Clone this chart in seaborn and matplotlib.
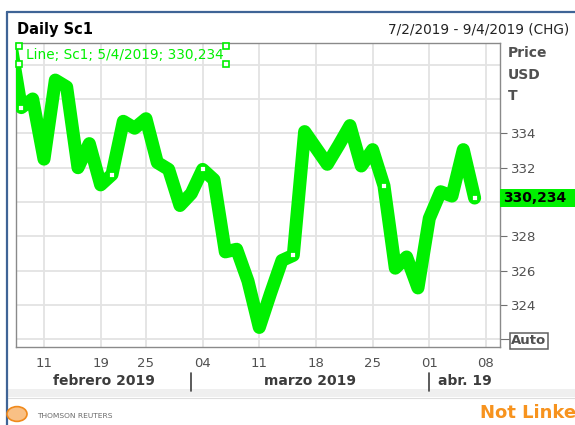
import pandas as pd
import seaborn as sns
import matplotlib.pyplot as plt
import matplotlib.transforms as mtransforms
from matplotlib.patches import Rectangle, Circle
from matplotlib.lines import Line2D

# trading days shown on the axis (Feb 6 is just off the left edge)
trade_days = [
    "2019-02-06", "2019-02-07", "2019-02-08", "2019-02-11", "2019-02-12",
    "2019-02-13", "2019-02-14", "2019-02-15", "2019-02-19", "2019-02-20",
    "2019-02-21", "2019-02-22", "2019-02-25", "2019-02-26", "2019-02-27",
    "2019-02-28", "2019-03-01", "2019-03-04", "2019-03-05", "2019-03-06",
    "2019-03-07", "2019-03-08", "2019-03-11", "2019-03-12", "2019-03-13",
    "2019-03-14", "2019-03-15", "2019-03-18", "2019-03-19", "2019-03-20",
    "2019-03-21", "2019-03-22", "2019-03-25", "2019-03-26", "2019-03-27",
    "2019-03-28", "2019-03-29", "2019-04-01", "2019-04-02", "2019-04-03",
    "2019-04-04", "2019-04-05", "2019-04-08", "2019-04-09",
]
prices = [
    339.5, 335.5, 336.0, 332.5, 337.1, 336.7, 332.0, 333.4, 331.0, 331.6,
    334.7, 334.3, 334.85, 332.3, 331.9, 329.8, 330.5, 331.9, 331.3, 327.1,
    327.25, 325.4, 322.7, 324.7, 326.6, 326.9, 334.1, 333.15, 332.2, 333.3,
    334.45, 332.1, 333.05, 330.95, 326.15, 326.8, 325.0, 329.05, 330.6, 330.35,
    333.05, 330.234,
]
tick_days = ["2019-02-11", "2019-02-19", "2019-02-25", "2019-03-04", "2019-03-11",
             "2019-03-18", "2019-03-25", "2019-04-01", "2019-04-08"]
tick_labels = ["11", "19", "25", "04", "11", "18", "25", "01", "08"]
month_starts = ["2019-03-01", "2019-04-01"]
month_labels = ["febrero 2019", "marzo 2019", "abr. 19"]
y_ticks = [322, 324, 326, 328, 330, 332, 334]
y_labels = ["Auto", "324", "326", "328", "330", "332", "334"]
y_extra_grid = [336, 338]

LIME = "#00f000"
GREY = "#505050"
W, H = 575, 425


def px(x, y):
    return x / W, 1 - y / H


sns.set_style("white")
plt.rcParams["font.family"] = ["DejaVu Sans"]

fig = plt.figure(figsize=(W / 100, H / 100), dpi=100)
fig.patch.set_facecolor("white")

# light band under the axis and window frame
fig.add_artist(Rectangle(px(8, 397), (W - 8) / W, 8 / H, transform=fig.transFigure,
                         facecolor="#efefef", edgecolor="none", zorder=0))
fig.add_artist(Line2D([8 / W, 1], [1 - 397.5 / H, 1 - 397.5 / H], transform=fig.transFigure,
                      color="#dddddd", lw=0.8))
fig.add_artist(Line2D([7 / W, 7 / W], [0, 1 - 12 / H], transform=fig.transFigure,
                      color="#3f6496", lw=1.6))
fig.add_artist(Line2D([7 / W, 1], [1 - 12 / H, 1 - 12 / H], transform=fig.transFigure,
                      color="#3f6496", lw=1.6))

ax = fig.add_axes([16 / W, 1 - 347 / H, 484 / W, 304 / H])

pos_of = {d: i for i, d in enumerate(trade_days)}
df = pd.DataFrame({"pos": range(len(prices)), "price": prices})

sns.lineplot(data=df, x="pos", y="price", ax=ax, color=LIME, linewidth=9.4,
             solid_joinstyle="round", solid_capstyle="round", zorder=3)
# selection handles every 8th point, counted from the last one
sel = df.iloc[::-8]
ax.plot(sel["pos"], sel["price"], ls="none", marker="s", ms=5, mfc="white",
        mec=LIME, mew=1.3, zorder=4)

ax.set_xlim(0.53, 43.24)
ax.set_ylim(321.56, 339.26)

ax.set_xticks([pos_of[d] for d in tick_days], tick_labels)
ax.set_xticks([pos_of[d] for d in month_starts], minor=True)
ax.yaxis.tick_right()
ax.set_yticks(y_ticks, y_labels)
ax.set_yticks(y_extra_grid, minor=True)
ax.set_xlabel("")
ax.set_ylabel("")

ax.tick_params(axis="x", which="both", length=4.5, width=0.8, color="#707070",
               pad=3, labelsize=9.5, labelcolor=GREY)
ax.tick_params(axis="y", which="major", length=4.8, width=0.8, color="#707070",
               pad=3.4, labelsize=9.5, labelcolor=GREY)
ax.tick_params(axis="y", which="minor", length=0)
ax.xaxis.grid(True, which="major", color="#e3e3e3", lw=1.3)
ax.yaxis.grid(True, which="both", color="#e3e3e3", lw=1.3)
ax.set_axisbelow(True)
for s in ax.spines.values():
    s.set_color("#8a8a8a")
    s.set_linewidth(1.0)

major = ax.yaxis.get_major_ticks()
auto_tick = major[0]
auto_tick.tick2line.set_markersize(6.5)
auto_tick.label2.set_fontweight("bold")
auto_tick.label2.set_bbox(dict(boxstyle="square,pad=0.12", fc="none", ec="#606060", lw=1.1))
# the 330 label sits under the last-value box
major[y_labels.index("330")].label2.set_visible(False)

# last value box on the price axis
blend = mtransforms.blended_transform_factory(ax.transAxes, ax.transData)
last = prices[-1]
ax.add_patch(Rectangle((1.0, last - 0.53), 0.3, 1.06, transform=blend, clip_on=False,
                       facecolor=LIME, edgecolor="none", zorder=6))
ax.annotate(f"{last:.3f}".replace(".", ","), xy=(1.0, last), xycoords=blend,
            xytext=(2.2, 0), textcoords="offset points", ha="left", va="center",
            fontsize=10, fontweight="bold", color="black", zorder=7,
            annotation_clip=False)

# series label with its selection handles
lab = ax.text(0.021, 0.9605, "Line; Sc1; 5/4/2019; 330,234", transform=ax.transAxes,
              ha="left", va="center", fontsize=9.8, color=LIME)
fig.canvas.draw()
bb = lab.get_window_extent().transformed(fig.transFigure.inverted())
hx = [bb.x0 - 7 / W, bb.x1 + 2 / W]
hy = [bb.y0 - 2 / H, bb.y1 + 2 / H]
fig.add_artist(Line2D([hx[0], hx[0], hx[1], hx[1]], [hy[0], hy[1], hy[0], hy[1]],
                      transform=fig.transFigure, ls="none", marker="s", ms=4.5,
                      mfc="white", mec=LIME, mew=1.2, zorder=8))

# month names under the day ticks
trans_x = mtransforms.blended_transform_factory(ax.transData, fig.transFigure)
lo, hi = ax.get_xlim()
bounds = [lo] + [pos_of[d] for d in month_starts] + [hi]
for i, name in enumerate(month_labels):
    ax.text((bounds[i] + bounds[i + 1]) / 2, 1 - 381 / H, name, transform=trans_x,
            ha="center", va="center", fontsize=10, fontweight="bold", color="#3c3c3c")
for b in bounds[1:-1]:
    fig.add_artist(Line2D([b, b], [1 - 373 / H, 1 - 391 / H], transform=trans_x,
                          color="#404040", lw=1.2))

# header and axis caption
fig.text(*px(17, 29.5), "Daily Sc1", ha="left", va="center", fontsize=10.5,
         fontweight="bold", color="black")
fig.text(*px(569, 29.5), "7/2/2019 - 9/4/2019 (CHG)", ha="right", va="center",
         fontsize=9.8, color="#222222")
for txt, yy in zip(["Price", "USD", "T"], [53, 75, 96]):
    fig.text(*px(508, yy), txt, ha="left", va="center", fontsize=10,
             fontweight="bold", color=GREY)

# footer
fig.add_artist(Circle(px(17, 414), 10 / W, transform=fig.transFigure,
                      facecolor="#f9c085", edgecolor="#f08a1c", lw=1.2, zorder=2))
fig.text(*px(37, 416), "THOMSON REUTERS", ha="left", va="center", fontsize=5.4,
         color="#6a6a6a")
fig.text(*px(480, 412.5), "Not Linked", ha="left", va="center", fontsize=13,
         fontweight="bold", color="#f7931e")

fig.savefig("out.png", dpi=100)
